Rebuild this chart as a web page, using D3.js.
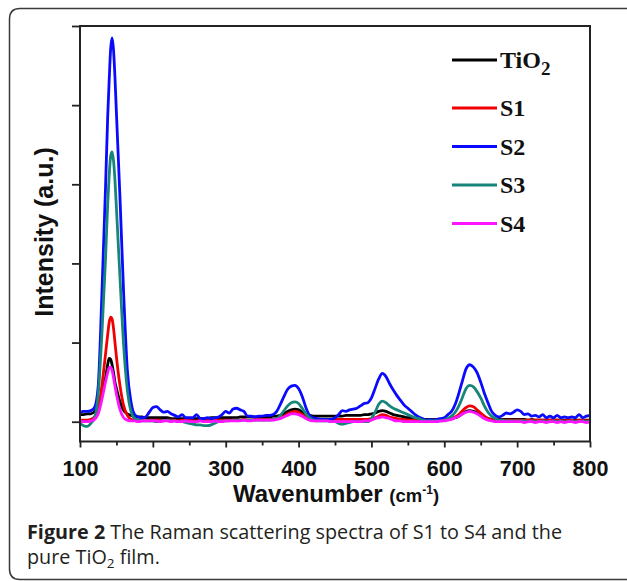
<!DOCTYPE html>
<html>
<head>
<meta charset="utf-8">
<script src="https://cdn.jsdelivr.net/npm/d3@7"></script>
<style>
  body { margin: 0; background: #fff; }
  svg { display: block; }
</style>
</head>
<body>
<div id="chart"></div>
<script>
// wavenumber grid (cm-1), denser around the big Eg peak
var wavenumber = [100, 105, 110, 115, 120, 125, 130, 135, 138, 140, 142, 144, 146, 148, 150,
    155, 160, 165, 170, 175, 180, 185, 190, 195, 200,
    205, 210, 215, 220, 225, 230, 235, 240, 245, 250,
    255, 260, 265, 270, 275, 280, 285, 290, 295, 300,
    305, 310, 315, 320, 325, 330, 335, 340, 345, 350,
    355, 360, 365, 370, 375, 380, 385, 390, 395, 400,
    405, 410, 415, 420, 425, 430, 435, 440, 445, 450,
    455, 460, 465, 470, 475, 480, 485, 490, 495, 500,
    505, 510, 515, 520, 525, 530, 535, 540, 545, 550,
    555, 560, 565, 570, 575, 580, 585, 590, 595, 600,
    605, 610, 615, 620, 625, 630, 635, 640, 645, 650,
    655, 660, 665, 670, 675, 680, 685, 690, 695, 700,
    705, 710, 715, 720, 725, 730, 735, 740, 745, 750,
    755, 760, 765, 770, 775, 780, 785, 790, 795, 800];

var tio2 = [0.09, 0.09, 0.10, 0.10, 0.13, 0.20, 0.35, 0.55, 0.72, 0.80, 0.79, 0.72, 0.62, 0.50, 0.42,
    0.25, 0.14, 0.10, 0.08, 0.07, 0.06, 0.06, 0.05, 0.05, 0.05,
    0.05, 0.05, 0.05, 0.05, 0.04, 0.04, 0.04, 0.04, 0.04, 0.04,
    0.04, 0.04, 0.04, 0.04, 0.04, 0.05, 0.05, 0.05, 0.05, 0.05,
    0.05, 0.05, 0.05, 0.06, 0.06, 0.06, 0.06, 0.06, 0.06, 0.06,
    0.06, 0.06, 0.07, 0.07, 0.08, 0.10, 0.13, 0.15, 0.16, 0.15,
    0.12, 0.09, 0.08, 0.07, 0.07, 0.07, 0.07, 0.07, 0.07, 0.07,
    0.07, 0.07, 0.08, 0.08, 0.08, 0.08, 0.08, 0.09, 0.09, 0.10,
    0.11, 0.13, 0.14, 0.13, 0.11, 0.09, 0.08, 0.07, 0.06, 0.05,
    0.05, 0.04, 0.04, 0.03, 0.03, 0.03, 0.03, 0.03, 0.03, 0.03,
    0.03, 0.04, 0.05, 0.07, 0.10, 0.13, 0.14, 0.13, 0.11, 0.08,
    0.06, 0.04, 0.03, 0.03, 0.03, 0.03, 0.03, 0.03, 0.03, 0.03,
    0.03, 0.03, 0.02, 0.03, 0.02, 0.02, 0.02, 0.02, 0.02, 0.02,
    0.02, 0.02, 0.02, 0.02, 0.02, 0.02, 0.02, 0.02, 0.02, 0.02];

var s1 = [0.02, 0.02, 0.02, 0.03, 0.06, 0.15, 0.45, 0.85, 1.10, 1.25, 1.32, 1.30, 1.18, 1.00, 0.82,
    0.45, 0.20, 0.08, 0.03, 0.02, 0.02, 0.02, 0.01, 0.02, 0.02,
    0.02, 0.02, 0.01, 0.02, 0.02, 0.02, 0.01, 0.02, 0.02, 0.02,
    0.01, 0.01, 0.02, 0.01, 0.02, 0.02, 0.02, 0.02, 0.02, 0.02,
    0.02, 0.02, 0.02, 0.02, 0.03, 0.02, 0.02, 0.03, 0.03, 0.03,
    0.03, 0.03, 0.03, 0.04, 0.05, 0.07, 0.10, 0.12, 0.13, 0.12,
    0.09, 0.06, 0.04, 0.03, 0.03, 0.03, 0.03, 0.03, 0.03, 0.03,
    0.03, 0.03, 0.03, 0.03, 0.03, 0.03, 0.03, 0.03, 0.03, 0.04,
    0.05, 0.07, 0.09, 0.08, 0.06, 0.05, 0.04, 0.03, 0.03, 0.02,
    0.02, 0.02, 0.02, 0.02, 0.02, 0.02, 0.02, 0.02, 0.02, 0.03,
    0.03, 0.04, 0.06, 0.09, 0.14, 0.18, 0.20, 0.19, 0.15, 0.11,
    0.07, 0.04, 0.03, 0.02, 0.02, 0.02, 0.02, 0.02, 0.02, 0.02,
    0.02, 0.02, 0.02, 0.02, 0.02, 0.02, 0.02, 0.02, 0.02, 0.02,
    0.02, 0.02, 0.01, 0.02, 0.02, 0.01, 0.02, 0.02, 0.01, 0.02];

var s2 = [0.12, 0.13, 0.13, 0.14, 0.18, 0.45, 1.60, 2.95, 3.85, 4.30, 4.70, 4.85, 4.70, 4.35, 3.90,
    2.80, 1.60, 0.65, 0.25, 0.09, 0.06, 0.05, 0.06, 0.12, 0.18,
    0.19, 0.15, 0.12, 0.13, 0.10, 0.08, 0.06, 0.09, 0.05, 0.05,
    0.05, 0.09, 0.04, 0.04, 0.05, 0.04, 0.05, 0.06, 0.09, 0.13,
    0.11, 0.16, 0.17, 0.15, 0.13, 0.07, 0.07, 0.06, 0.07, 0.07,
    0.08, 0.08, 0.09, 0.13, 0.22, 0.32, 0.41, 0.45, 0.46, 0.42,
    0.32, 0.18, 0.08, 0.05, 0.04, 0.03, 0.03, 0.03, 0.03, 0.05,
    0.09, 0.14, 0.13, 0.15, 0.16, 0.17, 0.20, 0.23, 0.24, 0.30,
    0.42, 0.54, 0.61, 0.57, 0.48, 0.40, 0.33, 0.27, 0.21, 0.17,
    0.13, 0.09, 0.06, 0.04, 0.02, 0.03, 0.02, 0.03, 0.04, 0.05,
    0.09, 0.13, 0.22, 0.36, 0.52, 0.67, 0.72, 0.69, 0.62, 0.50,
    0.36, 0.24, 0.13, 0.08, 0.06, 0.08, 0.11, 0.10, 0.12, 0.15,
    0.13, 0.09, 0.10, 0.07, 0.08, 0.06, 0.09, 0.05, 0.07, 0.05,
    0.08, 0.05, 0.06, 0.05, 0.06, 0.05, 0.09, 0.05, 0.07, 0.08];

var s3 = [-0.02, -0.05, -0.06, -0.02, 0.05, 0.35, 1.10, 2.05, 2.75, 3.10, 3.35, 3.41, 3.30, 3.05, 2.70,
    1.80, 0.95, 0.40, 0.13, 0.04, 0.02, 0.01, 0.01, 0.01, 0.01,
    0.00, 0.01, 0.01, 0.02, 0.01, 0.01, 0.00, 0.00, -0.01, -0.02,
    -0.03, -0.04, -0.04, -0.05, -0.05, -0.04, -0.02, 0.00, 0.01, 0.01,
    0.01, 0.02, 0.02, 0.02, 0.02, 0.02, 0.02, 0.02, 0.02, 0.02,
    0.02, 0.02, 0.03, 0.04, 0.08, 0.14, 0.20, 0.24, 0.25, 0.23,
    0.17, 0.10, 0.05, 0.02, 0.01, 0.01, 0.01, 0.01, 0.00, 0.00,
    -0.02, -0.03, -0.02, -0.01, 0.00, 0.00, 0.00, 0.00, 0.00, 0.04,
    0.12, 0.22, 0.26, 0.24, 0.20, 0.17, 0.15, 0.13, 0.11, 0.09,
    0.07, 0.05, 0.04, 0.02, 0.01, 0.01, 0.01, 0.01, 0.01, 0.02,
    0.04, 0.07, 0.12, 0.20, 0.31, 0.42, 0.46, 0.44, 0.38, 0.30,
    0.20, 0.12, 0.07, 0.04, 0.02, 0.02, 0.01, 0.01, 0.01, 0.01,
    0.01, 0.01, 0.00, 0.01, 0.00, 0.00, 0.01, 0.00, 0.00, 0.01,
    0.00, 0.01, 0.00, 0.00, 0.01, 0.00, 0.00, 0.01, 0.00, 0.01];

var s4 = [0.01, 0.00, 0.00, 0.01, 0.03, 0.10, 0.28, 0.50, 0.62, 0.68, 0.69, 0.65, 0.56, 0.45, 0.35,
    0.15, 0.05, 0.02, 0.01, 0.01, 0.00, 0.01, 0.01, 0.01, 0.01,
    0.01, 0.00, 0.01, 0.01, 0.00, 0.01, 0.00, 0.00, 0.01, 0.00,
    0.00, 0.00, 0.01, 0.00, 0.00, 0.00, 0.01, 0.00, 0.00, 0.01,
    0.01, 0.01, 0.01, 0.01, 0.02, 0.01, 0.01, 0.02, 0.02, 0.02,
    0.02, 0.02, 0.02, 0.03, 0.04, 0.06, 0.08, 0.10, 0.10, 0.09,
    0.07, 0.04, 0.02, 0.01, 0.01, 0.01, 0.01, 0.01, 0.00, 0.00,
    0.00, 0.00, 0.00, 0.00, 0.00, 0.00, 0.00, 0.01, 0.01, 0.02,
    0.04, 0.05, 0.06, 0.05, 0.04, 0.02, 0.01, 0.01, 0.00, 0.00,
    0.00, 0.00, 0.00, 0.00, 0.00, 0.00, 0.00, 0.00, 0.01, 0.01,
    0.02, 0.03, 0.05, 0.07, 0.10, 0.12, 0.13, 0.12, 0.10, 0.07,
    0.04, 0.02, 0.01, 0.00, 0.00, 0.00, 0.00, 0.00, 0.00, 0.00,
    0.00, -0.01, 0.00, 0.00, -0.01, 0.00, 0.00, -0.01, 0.00, 0.00,
    -0.01, 0.00, -0.01, 0.00, 0.00, -0.01, 0.00, 0.00, -0.01, 0.00];

var seriesNames = ["TiO2", "S1", "S2", "S3", "S4"];
var seriesValues = [tio2, s1, s2, s3, s4];
var seriesColors = ["#000000", "#f00000", "#0a0aff", "#178579", "#ff14ff"];

var xMajorTicks = [100, 200, 300, 400, 500, 600, 700, 800];
var xMinorTicks = [150, 250, 350, 450, 550, 650, 750];
var yTicks = [0, 1, 2, 3, 4, 5];

var w = 627,
    h = 581;

var svg = d3.select("#chart").append("svg")
    .attr("width", w)
    .attr("height", h);

// outer figure frame (open on the right edge)
svg.append("path")
    .attr("d", "M627,8.5 L20,8.5 Q9.5,8.5 9.5,19 L9.5,569 Q9.5,579.5 20,579.5 L627,579.5")
    .attr("fill", "none")
    .attr("stroke", "#3a3a3a")
    .attr("stroke-width", 1.5);

var x = d3.scaleLinear()
    .domain([100, 800])
    .range([80, 590]);

var y = d3.scaleLinear()
    .domain([-0.25, 5])
    .range([441.5, 26]);

var line = d3.line()
    .x(function (d, i) {
        return x(wavenumber[i]);
    })
    .y(function (d) {
        return y(d);
    })
    .curve(d3.curveMonotoneX);

var plot = svg.append("g").attr("class", "plot");

plot.selectAll("path.spectrum")
    .data(seriesValues)
    .enter()
    .append("path")
    .attr("class", "spectrum")
    .attr("d", line)
    .attr("fill", "none")
    .attr("stroke", function (d, i) {
        return seriesColors[i];
    })
    .attr("stroke-width", 2.8)
    .attr("stroke-linejoin", "round");

// axes
var xAxis = svg.append("g")
    .attr("transform", "translate(0," + y.range()[0] + ")")
    .call(d3.axisBottom(x)
        .tickValues(xMajorTicks)
        .tickSize(6)
        .tickSizeOuter(0)
        .tickPadding(13)
        .tickFormat(d3.format("d")));

var xMinor = svg.append("g")
    .attr("transform", "translate(0," + y.range()[0] + ")")
    .call(d3.axisBottom(x)
        .tickValues(xMinorTicks)
        .tickSize(4)
        .tickSizeOuter(0)
        .tickFormat(""));

var yAxis = svg.append("g")
    .attr("transform", "translate(" + x.range()[0] + ",0)")
    .call(d3.axisLeft(y)
        .tickValues(yTicks)
        .tickSize(8)
        .tickSizeOuter(0)
        .tickFormat(""));

svg.selectAll(".domain").remove();
svg.selectAll(".tick line")
    .attr("stroke", "#222")
    .attr("stroke-width", 1.8);

xAxis.selectAll("text")
    .attr("fill", "#111")
    .style("font-family", "'Liberation Sans', Arial, sans-serif")
    .style("font-weight", "bold")
    .style("font-size", "21.5px");

svg.append("rect")
    .attr("x", x.range()[0])
    .attr("y", y.range()[1])
    .attr("width", x.range()[1] - x.range()[0])
    .attr("height", y.range()[0] - y.range()[1])
    .attr("fill", "none")
    .attr("stroke", "#222")
    .attr("stroke-width", 2);

// axis titles
svg.append("text")
    .attr("transform", "translate(53,232) rotate(-90)")
    .attr("text-anchor", "middle")
    .style("font-family", "'Liberation Sans', Arial, sans-serif")
    .style("font-weight", "bold")
    .style("font-size", "25px")
    .attr("fill", "#111")
    .text("Intensity (a.u.)");

var xTitle = svg.append("text")
    .attr("x", 336)
    .attr("y", 502)
    .attr("text-anchor", "middle")
    .style("font-family", "'Liberation Sans', Arial, sans-serif")
    .style("font-weight", "bold")
    .attr("fill", "#111");
xTitle.append("tspan").style("font-size", "24px").text("Wavenumber ");
xTitle.append("tspan").style("font-size", "18.5px").text("(cm");
xTitle.append("tspan").style("font-size", "12px").attr("dy", -8).text("-1");
xTitle.append("tspan").style("font-size", "18.5px").attr("dy", 8).text(")");

// legend
var legendY = [60, 108, 146.5, 185, 223.5];

var legend = svg.selectAll("g.legend")
    .data(seriesNames)
    .enter()
    .append("g")
    .attr("class", "legend")
    .attr("transform", function (d, i) {
        return "translate(452," + legendY[i] + ")";
    });

legend.append("line")
    .attr("x1", 0)
    .attr("x2", 45)
    .attr("stroke", function (d, i) {
        return seriesColors[i];
    })
    .attr("stroke-width", 2.8);

var legendText = legend.append("text")
    .attr("x", 48)
    .attr("y", 8)
    .style("font-family", "'Liberation Serif', 'Times New Roman', serif")
    .style("font-weight", "bold")
    .style("font-size", "24px")
    .attr("fill", "#111");

legendText.each(function (d) {
    var t = d3.select(this);
    if (d === "TiO2") {
        t.append("tspan").text("TiO");
        t.append("tspan").attr("dy", 7).style("font-size", "19px").text("2");
    } else {
        t.text(d);
    }
});

// caption
var captionFont = "'Open Sans', 'Noto Sans', sans-serif";

var cap1 = svg.append("text")
    .attr("x", 27)
    .attr("y", 539)
    .style("font-family", captionFont)
    .style("font-size", "19.8px")
    .attr("fill", "#231f20");
cap1.append("tspan").style("font-weight", "bold").text("Figure 2");
cap1.append("tspan").text(" The Raman scattering spectra of S1 to S4 and the");

var cap2 = svg.append("text")
    .attr("x", 27)
    .attr("y", 564)
    .style("font-family", captionFont)
    .style("font-size", "19.8px")
    .attr("fill", "#231f20");
cap2.append("tspan").text("pure TiO");
cap2.append("tspan").attr("dy", 4).style("font-size", "13.5px").text("2");
cap2.append("tspan").attr("dy", -4).text(" film.");
</script>
</body>
</html>
